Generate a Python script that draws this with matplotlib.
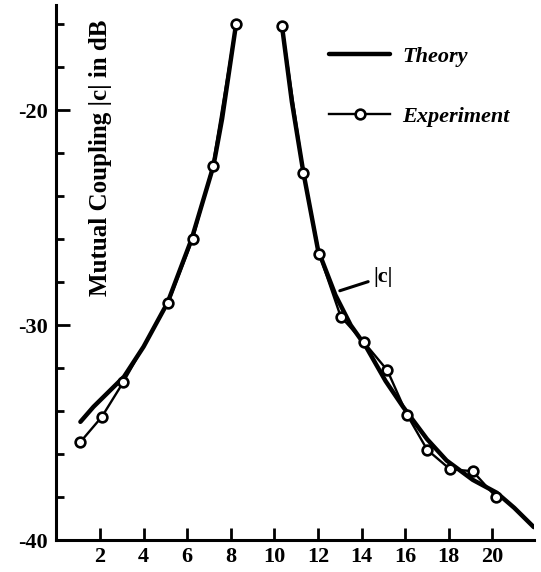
import matplotlib.pyplot as plt
import numpy as np

# Теоретическая кривая (две ветви по обе стороны от пика)
theory_left_x = [1.1, 1.7, 2.4, 3.1, 4.0, 5.1, 6.2, 7.2, 7.6, 8.24]
theory_left_y = [-34.5, -33.8, -33.1, -32.4, -31.0, -28.95, -26.0, -22.6, -20.4, -16.0]
theory_right_x = [10.35, 10.8, 11.33, 12.0, 12.8, 13.5, 14.2, 15.1, 15.9, 17.0, 17.9, 19.1, 20.2, 21.0, 21.9]
theory_right_y = [-16.1, -19.6, -22.9, -26.5, -28.6, -30.0, -31.0, -32.6, -33.8, -35.3, -36.3, -37.2, -37.8, -38.5, -39.4]

# Экспериментальные точки
exp_left_x = [1.08, 2.08, 3.07, 5.13, 6.25, 7.17, 8.24]
exp_left_y = [-35.46, -34.27, -32.65, -28.95, -26.0, -22.6, -16.0]
exp_right_x = [10.35, 11.33, 12.06, 13.04, 14.11, 15.18, 16.1, 17.01, 18.05, 19.1, 20.17]
exp_right_y = [-16.1, -22.9, -26.7, -29.6, -30.8, -32.1, -34.2, -35.8, -36.7, -36.8, -38.0]

x_ticks = [2, 4, 6, 8, 10, 12, 14, 16, 18, 20]
y_ticks = [-40, -30, -20]
y_tick_labels = ["-40", "-30", "-20"]
y_minor = [-38, -36, -34, -32, -28, -26, -24, -22, -18, -16]

lbl_font = {"family": "Liberation Serif", "weight": "bold"}

fig = plt.figure(figsize=(5.41, 5.72), dpi=100)
ax = fig.add_axes([0.1043, 0.0559, 0.8824, 0.9354])

# Теория - толстая линия
ax.plot(theory_left_x, theory_left_y, color="black", lw=3.2, solid_capstyle="round",
        solid_joinstyle="round", label="Theory")
ax.plot(theory_right_x, theory_right_y, color="black", lw=3.2, solid_capstyle="round",
        solid_joinstyle="round")

# Эксперимент - тонкая линия с кружками
ax.plot(exp_left_x, exp_left_y, color="black", lw=1.7, marker="o", ms=7,
        mfc="white", mec="black", mew=1.9, label="Experiment")
ax.plot(exp_right_x, exp_right_y, color="black", lw=1.7, marker="o", ms=7,
        mfc="white", mec="black", mew=1.9)

ax.set_xlim(0, 21.9)
ax.set_ylim(-40, -15.1)

# оси
for s in ["top", "right"]:
    ax.spines[s].set_visible(False)
for s in ["left", "bottom"]:
    ax.spines[s].set_linewidth(2.2)

ax.set_xticks(x_ticks)
ax.set_xticklabels([str(v) for v in x_ticks], fontdict=lbl_font, fontsize=16)
ax.set_yticks(y_ticks)
ax.set_yticklabels(y_tick_labels, fontdict=lbl_font, fontsize=16)
ax.set_yticks(y_minor, minor=True)
ax.tick_params(axis="x", direction="in", length=9, width=2, pad=5)
ax.tick_params(axis="y", which="major", direction="in", length=10, width=2, pad=6)
ax.tick_params(axis="y", which="minor", direction="in", length=6, width=2)

# подпись оси ординат внутри поля графика
ax.text(0.092, 0.715, "Mutual Coupling |c| in dB", transform=ax.transAxes,
        rotation=90, ha="center", va="center", fontsize=18, **lbl_font)

# выноска |c|
ax.annotate("|c|", xy=(13.0, -28.4), xytext=(14.55, -27.75), ha="left", va="center",
            fontsize=16, fontfamily="Liberation Serif", fontweight="bold",
            arrowprops=dict(arrowstyle="-", color="black", lw=2.2, shrinkA=2, shrinkB=0))

leg = ax.legend(loc="upper left", bbox_to_anchor=(0.571, 0.922), frameon=False,
                borderpad=0, borderaxespad=0, handlelength=2.75, handletextpad=0.55,
                labelspacing=1.75, numpoints=1,
                prop={"family": "Liberation Serif", "style": "italic", "weight": "bold", "size": 16})

plt.savefig("out.png", dpi=100)
